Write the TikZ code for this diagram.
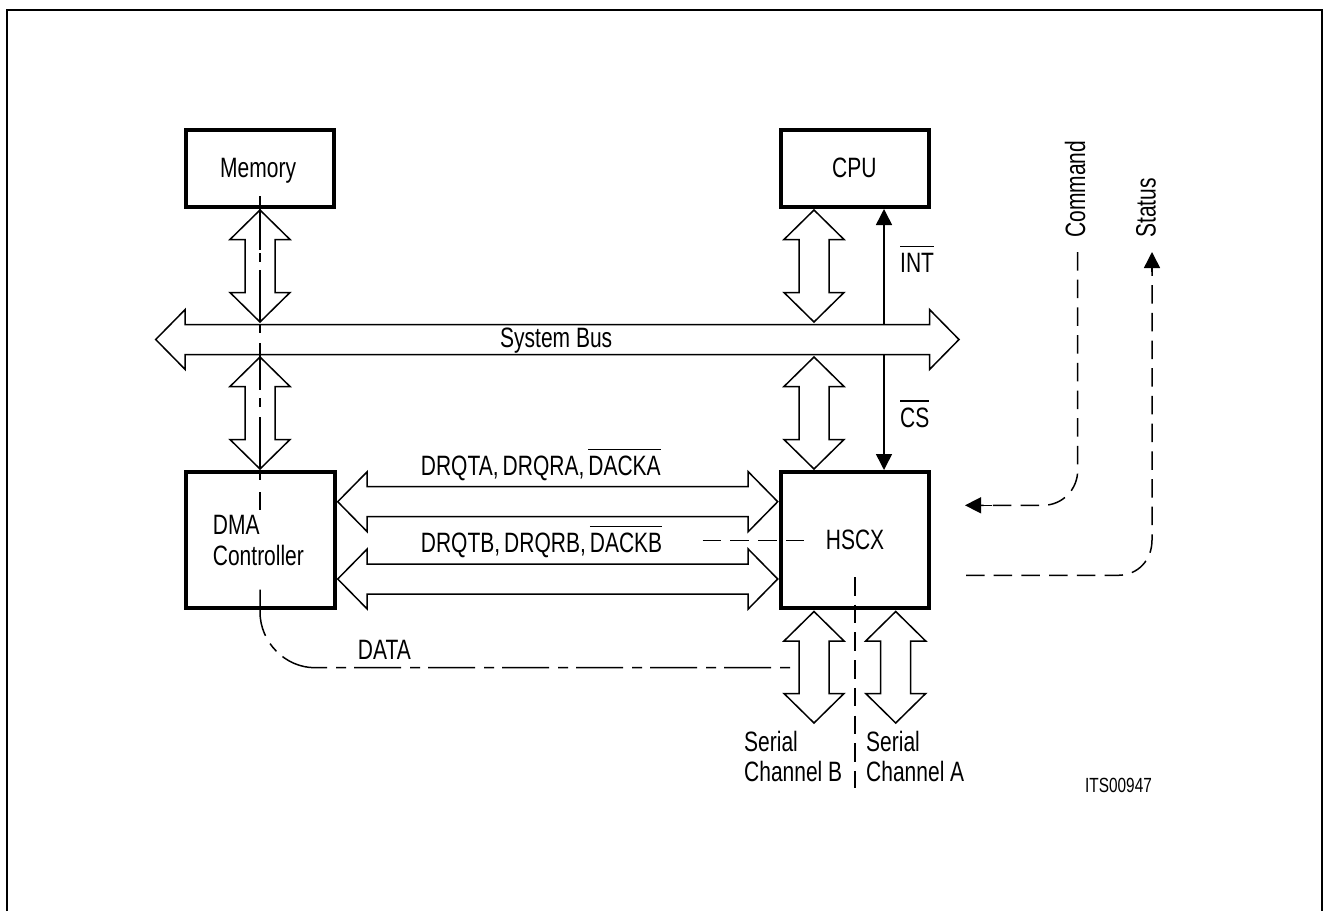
\documentclass[tikz,border=0pt]{standalone}
\usepackage{fontspec}
\setmainfont[FakeStretch=0.75]{Liberation Sans}
\usetikzlibrary{arrows.meta}
\newcommand\ovl[1]{\leavevmode\setbox0\hbox{#1}\rlap{\raise 25.5pt\hbox{\rule{\wd0}{1.2pt}}}\box0}
% vertical double arrow: centre x, top tip y, bottom tip y
\newcommand\vdbl[3]{\draw[busline] (#1,#2) -- (#1+30,#2+29.5) -- (#1+15,#2+29.5) -- (#1+15,#3-29.5) -- (#1+30,#3-29.5) -- (#1,#3) -- (#1-30,#3-29.5) -- (#1-15,#3-29.5) -- (#1-15,#2+29.5) -- (#1-30,#2+29.5) -- cycle;}
% horizontal double arrow: left tip x, right tip x, centre y
\newcommand\hdbl[3]{\draw[busline] (#1,#3) -- (#1+29.5,#3-30) -- (#1+29.5,#3-15) -- (#2-29.5,#3-15) -- (#2-29.5,#3-30) -- (#2,#3) -- (#2-29.5,#3+30) -- (#2-29.5,#3+15) -- (#1+29.5,#3+15) -- (#1+29.5,#3+30) -- cycle;}
\tikzset{
  x=1pt,y=-1pt,
  box/.style={draw=black,line width=4pt,minimum width=148.5pt,inner sep=0pt},
  busline/.style={draw=black,line width=1.5pt,line join=miter},
  lbl/.style={inner sep=0pt,anchor=base west,font=\fontsize{28}{33}\selectfont},
  small/.style={inner sep=0pt,anchor=base west,font=\fontsize{20.5}{24}\selectfont},
  sig/.style={line width=1.5pt,-{Triangle[length=16pt,width=16pt]}},
  dash1/.style={line width=1.5pt,dash pattern=on 18.5pt off 9.2pt},
  dashdot/.style={line width=1.5pt},
}
\begin{document}
\begin{tikzpicture}
\fill[white] (0,0) rectangle (1323,911);
\useasboundingbox (0,0) rectangle (1323,911);
\draw[line width=2pt] (7,911) -- (7,10) -- (1321.7,10) -- (1321.7,911);
% boxes
\node[box,minimum height=77pt] (mem) at (260,168) {};
\node[box,minimum height=77pt] (cpu) at (855,168) {};
\node[box,minimum height=135.5pt] (dma) at (260.5,540) {};
\node[box,minimum height=135.5pt] (hscx) at (855,540) {};
% double arrows
\vdbl{260}{210}{322}
\vdbl{260}{357}{469}
\vdbl{814}{210}{322}
\vdbl{814}{357}{469}
\vdbl{814}{611.5}{723}
\vdbl{895.7}{611.5}{723}
\hdbl{155.7}{959}{339.5}
\hdbl{337.7}{777.7}{501.7}
\hdbl{337.7}{777.7}{579}
% free ends
\coordinate (intfrom) at (884,325);
\coordinate (intto) at (884,209);
\coordinate (csfrom) at (884,354);
\coordinate (csto) at (884,470);
\draw[sig] (intfrom) -- (intto);
\draw[sig] (csfrom) -- (csto);
% memory to DMA
\coordinate (md1) at (260,196);
\coordinate (md2) at (260,510);
\draw[dashdot,dash pattern=on 54pt off 3pt on 9pt off 8pt on 52pt off 3pt on 8pt off 10pt on 47pt off 8pt on 9pt off 10pt on 51pt off 2pt on 10pt off 12pt on 18pt off 100pt] (md1) -- (md2);
% data
\coordinate (d1) at (790,667.7);
\coordinate (d2) at (315,667.7);
\coordinate (d3) at (260,612);
\coordinate (d4) at (260,587);
\draw[dashdot,dash pattern=on 10pt off 9pt on 47pt off 8pt] (d1) -- (d2) .. controls (285,667.7) and (260,642) .. (d3) -- (d4);
% hscx dashed
\coordinate (h1) at (702.7,540.3);
\coordinate (h2) at (804,540.3);
\draw[dash1] (h1) -- (h2);
\coordinate (s1) at (855,577);
\coordinate (s2) at (855,788);
\draw[dash1] (s1) -- (s2);
% command / status
\coordinate (c1) at (1077.7,252);
\coordinate (c2) at (1077.7,470);
\coordinate (c3) at (1043,505.3);
\coordinate (c4) at (965,505.3);
\draw[dash1] (c1) -- (c2) .. controls (1077.7,490) and (1062,505.3) .. (c3) -- (978,505.3);
\draw[line width=1.5pt,-{Triangle[length=16pt,width=16pt]}] (992,505.3) -- (c4);
\coordinate (t1) at (966,575.3);
\coordinate (t2) at (1118,575.3);
\coordinate (t3) at (1152,540);
\coordinate (t4) at (1152,252);
\draw[dash1] (t1) -- (t2) .. controls (1138,575.3) and (1152,560) .. (t3) -- (1152,270);
\draw[line width=1.5pt,-{Triangle[length=16pt,width=16pt]}] (1152,272) -- (t4);
% labels
\node[lbl] (lmem) at (220,177) {Memory};
\node[lbl] (lcpu) at (832,177) {CPU};
\node[lbl] (lint) at (900,272.7) {\ovl{INT}};
\node[lbl] (lcs) at (900,427) {\ovl{CS}};
\node[lbl] (lbus) at (500,347) {System Bus};
\node[lbl] (lqa) at (420.7,475.7) {DRQTA,\hspace{4pt}DRQRA,\hspace{4pt}\ovl{DACKA}};
\node[lbl] (lqb) at (420.7,552.3) {DRQTB,\hspace{4pt}DRQRB,\hspace{4pt}\ovl{DACKB}};
\node[lbl] (ldma1) at (212.7,534) {DMA};
\node[lbl] (ldma2) at (212.7,565) {Controller};
\node[lbl] (lhs) at (825.7,549.3) {HSCX};
\node[lbl] (ldata) at (357.7,659) {DATA};
\node[lbl] (lsb1) at (744,751.7) {Serial};
\node[lbl] (lsb2) at (744,781.7) {Channel B};
\node[lbl] (lsa1) at (866,751.7) {Serial};
\node[lbl] (lsa2) at (866,781.7) {Channel A};
\node[small] (lits) at (1085,792.7) {ITS00947};
\node[lbl,rotate=90] (lcmd) at (1085,238) {Command};
\node[lbl,rotate=90] (lst) at (1155.7,238) {Status};
\end{tikzpicture}
\end{document}
